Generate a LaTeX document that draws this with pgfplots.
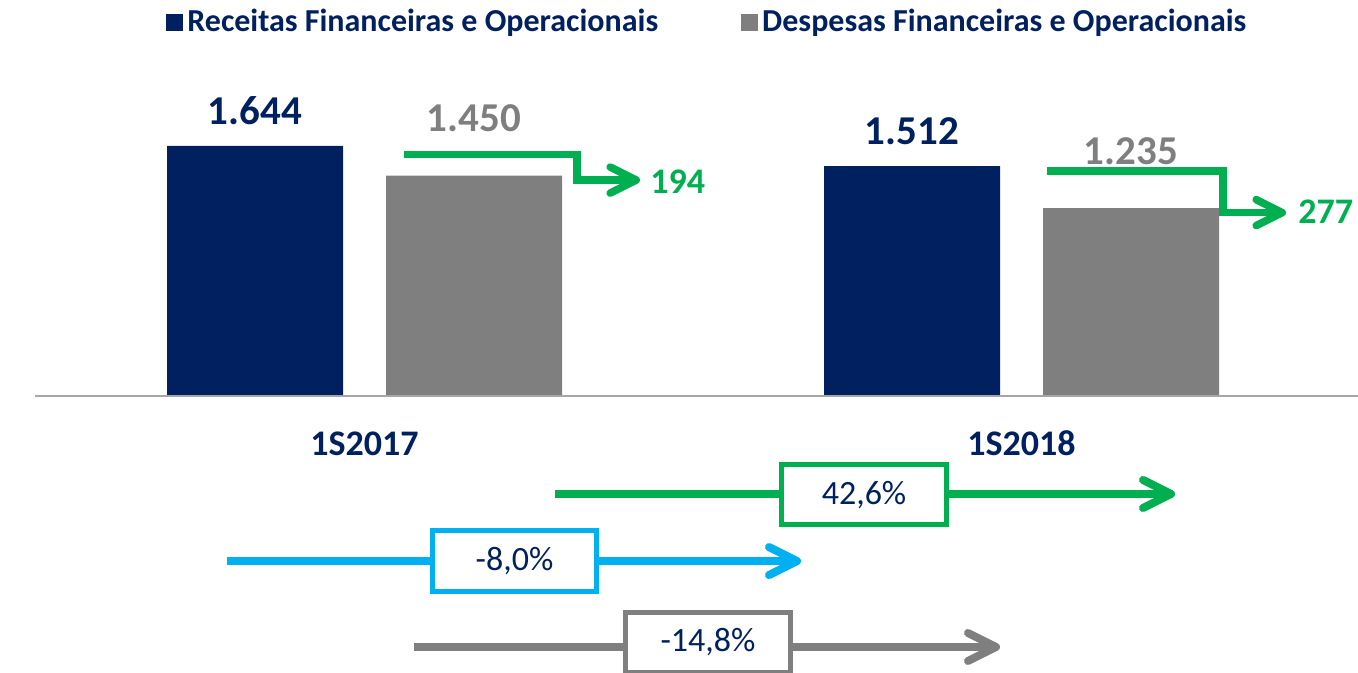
\documentclass[border=0pt]{standalone}
\usepackage{fontspec}
\setmainfont{Carlito}
\usepackage{pgfplots}
\usepackage{pgfplotstable}
\pgfplotsset{compat=1.18}
\usetikzlibrary{arrows.meta}
\definecolor{navy}{HTML}{002060}
\definecolor{bargray}{HTML}{7F7F7F}
\definecolor{deltagreen}{HTML}{00B050}
\definecolor{cyanline}{HTML}{00B0F0}
\definecolor{axisgray}{HTML}{A6A6A6}

% semester  receitas  despesas
\pgfplotstableread{
x rec  desp
0 1644 1450
1 1512 1235
}\results

\begin{document}
\begin{tikzpicture}
\begin{axis}[
  scale only axis, width=679pt, height=336.5pt,
  xmin=-0.5548, xmax=1.5122, ymin=-1821, ymax=2604,
  axis x line=middle, axis y line=none,
  x axis line style={draw=none},
  ytick=\empty,
  xtick=data, xticklabels={1S2017,1S2018},
  major tick length=0pt,
  xticklabel style={font=\bfseries\fontsize{18}{20}\selectfont, text=navy, anchor=base, yshift=-29.5pt},
  ybar=21.5pt, bar width=88pt,
  clip=false,
  nodes near coords={\pgfmathprintnumber[assume math mode=true,1000 sep={.}]{\pgfplotspointmeta}},
  every node near coord/.append style={anchor=base, font=\bfseries\fontsize{20.5}{24}\selectfont},
  legend columns=2,
  legend style={at={(0.1222,0.967)}, anchor=west, draw=none, fill=none, inner sep=0pt,
    font=\bfseries\fontsize{16}{19}\selectfont, text=navy, cells={anchor=west},
    /tikz/every even column/.append style={column sep=39.5pt}},
]
\addplot[fill=navy, draw=none,
  every node near coord/.append style={text=navy, yshift=10.75pt},
  legend image code/.code={\fill[navy] (0pt,-4.25pt) rectangle (8.5pt,4.25pt);}]
  table[x=x, y=rec] {\results};
\addlegendentry{Receitas Financeiras e Operacionais}
\addplot[fill=bargray, draw=none,
  every node near coord/.append style={text=bargray, yshift=21.75pt},
  legend image code/.code={\fill[bargray] (0pt,-4.25pt) rectangle (8.5pt,4.25pt);}]
  table[x=x, y=desp] {\results};
\addlegendentry{Despesas Financeiras e Operacionais}

% baseline
\draw[axisgray, line width=1pt] (axis cs:-0.5015,0) -- (axis cs:1.5122,0);

% bent difference arrows
\draw[deltagreen, line width=3.8pt, -{Straight Barb[length=13pt,width=13pt,round]}]
  (axis cs:0.0601,1588) -| (axis cs:0.3234,1420) -- (axis cs:0.4193,1420);
\node[anchor=west, inner sep=0pt, text=deltagreen, font=\bfseries\fontsize{18}{20}\selectfont]
  at (axis cs:0.4346,1407) {194};
\draw[deltagreen, line width=3.8pt, -{Straight Barb[length=13pt,width=13pt,round]}]
  (axis cs:1.0388,1479) -| (axis cs:1.3067,1206) -- (axis cs:1.4026,1206);
\node[anchor=west, inner sep=0pt, text=deltagreen, font=\bfseries\fontsize{18}{20}\selectfont]
  at (axis cs:1.4208,1210) {277};

% growth arrows
\draw[deltagreen, line width=4pt, -{Straight Barb[length=14pt,width=14pt,round]}]
  (axis cs:0.2900,-644) -- (axis cs:1.2337,-644);
\node[draw=deltagreen, line width=2.5pt, fill=white, minimum width=82.5pt, minimum height=30pt,
  text=navy, font=\fontsize{17}{20}\selectfont] at (axis cs:0.7603,-648) {42,6\%};
\draw[cyanline, line width=4pt, -{Straight Barb[length=14pt,width=14pt,round]}]
  (axis cs:-0.2093,-1085) -- (axis cs:0.6644,-1085);
\node[draw=cyanline, line width=2.5pt, fill=white, minimum width=82pt, minimum height=30.5pt,
  text=navy, font=\fontsize{17}{20}\selectfont] at (axis cs:0.2283,-1085) {-8,0\%};
\draw[bargray, line width=4pt, -{Straight Barb[length=14pt,width=14pt,round]}]
  (axis cs:0.0753,-1650) -- (axis cs:0.9673,-1650);
\node[draw=bargray, line width=2.5pt, fill=white, minimum width=82.5pt, minimum height=30pt,
  text=navy, font=\fontsize{17}{20}\selectfont] at (axis cs:0.5228,-1620) {-14,8\%};
\end{axis}
\pgfresetboundingbox
\path (0,0) rectangle (679pt,336.5pt);
\end{tikzpicture}
\end{document}
